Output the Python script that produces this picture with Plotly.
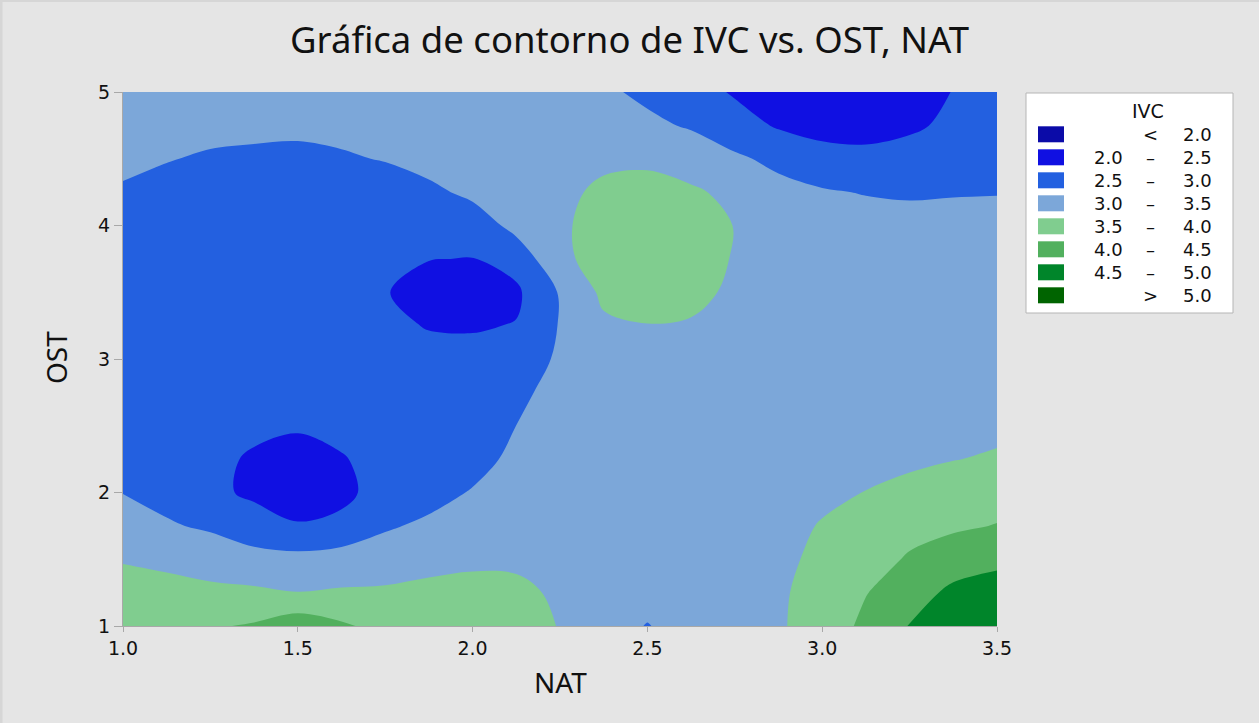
import plotly.graph_objects as go

# ---- data ----
nat = [1.0, 1.125, 1.25, 1.375, 1.5, 1.625, 1.75, 1.875, 2.0, 2.125, 2.25,
       2.375, 2.5, 2.625, 2.75, 2.875, 3.0, 3.125, 3.25, 3.375, 3.5]
ost = [1.0, 1.25, 1.5, 1.75, 2.0, 2.25, 2.5, 2.75, 3.0, 3.25, 3.5,
       3.75, 4.0, 4.25, 4.5, 4.75, 5.0]

ivc_ost_100 = [3.75, 3.78, 3.95, 4.05, 4.30, 4.07, 3.85, 3.82, 3.78, 3.70, 3.48, 3.30, 2.97, 3.30, 3.35, 3.46, 3.66, 4.13, 4.52, 4.72, 4.88]
ivc_ost_125 = [3.62, 3.65, 3.60, 3.58, 3.51, 3.55, 3.58, 3.60, 3.64, 3.60, 3.43, 3.30, 3.25, 3.28, 3.32, 3.45, 3.64, 3.98, 4.30, 4.60, 4.70]
ivc_ost_150 = [3.48, 3.40, 3.30, 3.18, 3.15, 3.22, 3.22, 3.38, 3.42, 3.42, 3.35, 3.28, 3.25, 3.27, 3.30, 3.40, 3.60, 3.80, 4.05, 4.28, 4.40]
ivc_ost_175 = [3.22, 3.05, 2.93, 2.70, 2.53, 2.62, 2.95, 3.08, 3.20, 3.30, 3.30, 3.27, 3.25, 3.26, 3.28, 3.35, 3.53, 3.65, 3.85, 3.92, 4.02]
ivc_ost_200 = [2.99, 2.85, 2.60, 2.42, 2.30, 2.38, 2.70, 2.85, 3.03, 3.20, 3.28, 3.27, 3.25, 3.26, 3.27, 3.30, 3.40, 3.51, 3.62, 3.70, 3.78]
ivc_ost_225 = [2.85, 2.75, 2.58, 2.46, 2.33, 2.47, 2.65, 2.72, 2.85, 3.10, 3.25, 3.27, 3.25, 3.26, 3.27, 3.28, 3.33, 3.38, 3.42, 3.49, 3.54]
ivc_ost_250 = [2.80, 2.68, 2.62, 2.57, 2.55, 2.62, 2.67, 2.70, 2.76, 3.002, 3.20, 3.27, 3.27, 3.27, 3.28, 3.27, 3.30, 3.32, 3.36, 3.40, 3.42]
ivc_ost_275 = [2.75, 2.64, 2.60, 2.58, 2.60, 2.63, 2.68, 2.68, 2.72, 2.90, 3.15, 3.28, 3.30, 3.30, 3.30, 3.27, 3.28, 3.28, 3.30, 3.33, 3.35]
ivc_ost_300 = [2.72, 2.62, 2.58, 2.56, 2.60, 2.62, 2.65, 2.62, 2.64, 2.70, 3.08, 3.30, 3.35, 3.35, 3.32, 3.27, 3.27, 3.27, 3.28, 3.30, 3.32]
ivc_ost_325 = [2.72, 2.62, 2.57, 2.55, 2.58, 2.60, 2.58, 2.48, 2.46, 2.52, 3.03, 3.42, 3.49, 3.46, 3.36, 3.27, 3.27, 3.27, 3.27, 3.28, 3.30]
ivc_ost_350 = [2.75, 2.65, 2.58, 2.55, 2.57, 2.58, 2.52, 2.35, 2.32, 2.42, 3.04, 3.60, 3.65, 3.62, 3.42, 3.28, 3.27, 3.27, 3.27, 3.27, 3.28]
ivc_ost_375 = [2.80, 2.70, 2.62, 2.58, 2.60, 2.62, 2.58, 2.51, 2.49, 2.68, 3.40, 3.68, 3.72, 3.70, 3.47, 3.30, 3.27, 3.25, 3.25, 3.25, 3.25]
ivc_ost_400 = [2.87, 2.77, 2.68, 2.63, 2.65, 2.68, 2.70, 2.70, 2.70, 3.16, 3.42, 3.70, 3.72, 3.68, 3.49, 3.30, 3.22, 3.17, 3.15, 3.16, 3.17]
ivc_ost_425 = [2.96, 2.86, 2.77, 2.72, 2.73, 2.77, 2.82, 2.88, 3.12, 3.28, 3.38, 3.60, 3.65, 3.56, 3.40, 3.15, 3.04, 2.98, 2.95, 2.97, 2.98]
ivc_ost_450 = [3.08, 3.02, 2.95, 2.92, 2.91, 2.96, 3.02, 3.20, 3.28, 3.32, 3.35, 3.40, 3.42, 3.30, 3.08, 2.88, 2.72, 2.65, 2.70, 2.78, 2.85]
ivc_ost_475 = [3.18, 3.15, 3.12, 3.10, 3.08, 3.10, 3.20, 3.27, 3.32, 3.35, 3.30, 3.25, 3.10, 2.95, 2.70, 2.45, 2.30, 2.30, 2.42, 2.60, 2.78]
ivc_ost_500 = [3.22, 3.22, 3.22, 3.22, 3.20, 3.22, 3.27, 3.30, 3.33, 3.33, 3.20, 3.08, 2.90, 2.70, 2.45, 2.25, 2.10, 2.05, 2.20, 2.52, 2.75]

ivc = [ivc_ost_100, ivc_ost_125, ivc_ost_150, ivc_ost_175, ivc_ost_200,
       ivc_ost_225, ivc_ost_250, ivc_ost_275, ivc_ost_300, ivc_ost_325,
       ivc_ost_350, ivc_ost_375, ivc_ost_400, ivc_ost_425, ivc_ost_450,
       ivc_ost_475, ivc_ost_500]

level_start, level_end, level_step = 2.0, 5.0, 0.5
band_colors = ["#0b0ba8", "#1010e2", "#2360e0", "#7ca7d9",
               "#80cd8f", "#52b05e", "#00852a", "#006400"]
legend_low = ["", "2.0", "2.5", "3.0", "3.5", "4.0", "4.5", ""]
legend_sep = ["<", "–", "–", "–", "–", "–", "–", ">"]
legend_high = ["2.0", "2.5", "3.0", "3.5", "4.0", "4.5", "5.0", "5.0"]

x_ticks = [1.0, 1.5, 2.0, 2.5, 3.0, 3.5]
y_ticks = [1, 2, 3, 4, 5]

# ---- figure ----
W, H = 1259, 723
L, R, T, B = 123, 997, 92, 626
TFONT = "Noto Sans"
NFONT = "DejaVu Sans"
INK = "#111111"


def px(xp):
    return (xp - L) / (R - L)


def py(yp):
    return (B - yp) / (B - T)


n = len(band_colors) - 1
colorscale = [[k / n, c] for k, c in enumerate(band_colors)]

fig = go.Figure(go.Contour(
    x=nat, y=ost, z=ivc,
    autocontour=False,
    contours=dict(start=level_start, end=level_end, size=level_step,
                  coloring="fill", showlines=False),
    line=dict(width=0, smoothing=1.0),
    colorscale=colorscale,
    showscale=False,
    hoverinfo="x+y+z",
))

fig.update_layout(
    width=W, height=H,
    margin=dict(l=L, r=W - R, t=T, b=H - B),
    paper_bgcolor="#e5e5e5",
    plot_bgcolor="#e5e5e5",
    showlegend=False,
    font=dict(family=TFONT, color=INK),
    title=dict(text="Gráfica de contorno de IVC vs. OST, NAT",
               x=0.5, xanchor="center", xref="container",
               y=1 - 40 / H, yanchor="middle", yref="container",
               font=dict(family=TFONT, size=36.5, color=INK)),
)

fig.update_xaxes(range=[1.0, 3.5], tickvals=x_ticks,
                 ticktext=[f"{v:.1f}" for v in x_ticks],
                 showgrid=False, zeroline=False, showline=True,
                 linecolor="#a8a8a8", linewidth=1, ticks="outside",
                 ticklen=5, tickcolor="#a8a8a8",
                 tickfont=dict(size=19, family=NFONT, color=INK))
fig.update_yaxes(range=[1, 5], tickvals=y_ticks,
                 ticktext=[str(v) for v in y_ticks],
                 showgrid=False, zeroline=False, showline=True,
                 linecolor="#a8a8a8", linewidth=1, ticks="outside",
                 ticklen=8, tickcolor="#a8a8a8",
                 tickfont=dict(size=19, family=NFONT, color=INK))

annotations = [
    dict(text="NAT", x=px(560), y=py(682), xref="paper", yref="paper",
         showarrow=False, xanchor="center", yanchor="middle",
         font=dict(size=28, family=TFONT, color=INK)),
    dict(text="OST", x=px(56), y=py(358), xref="paper", yref="paper",
         showarrow=False, xanchor="center", yanchor="middle", textangle=-90,
         font=dict(size=28, family=TFONT, color=INK)),
    dict(text="IVC", x=px(1148), y=py(111), xref="paper", yref="paper",
         showarrow=False, xanchor="center", yanchor="middle",
         font=dict(size=19, family=NFONT, color=INK)),
]
shapes = [
    # thin frame lines along the left and top edges of the picture
    dict(type="line", xref="paper", yref="paper",
         x0=px(1), x1=px(1), y0=py(0), y1=py(H),
         line=dict(color="#d6d6d6", width=3)),
    dict(type="line", xref="paper", yref="paper",
         x0=px(0), x1=px(W), y0=py(1), y1=py(1),
         line=dict(color="#d6d6d6", width=2)),
    dict(type="rect", xref="paper", yref="paper",
         x0=px(1026), x1=px(1233), y0=py(93), y1=py(313),
         fillcolor="white", line=dict(color="#b5b5b5", width=1)),
]
row0, row_gap = 134.3, 23.0
for i, col in enumerate(band_colors):
    yc = row0 + i * row_gap
    shapes.append(dict(type="rect", xref="paper", yref="paper",
                       x0=px(1038), x1=px(1064), y0=py(yc + 8), y1=py(yc - 8),
                       fillcolor=col, line=dict(width=0)))
    if legend_low[i]:
        annotations.append(dict(text=legend_low[i], x=px(1125), y=py(yc),
                                xref="paper", yref="paper", showarrow=False,
                                xanchor="right", yanchor="middle",
                                font=dict(size=18, family=NFONT, color=INK)))
    annotations.append(dict(text=legend_sep[i], x=px(1150), y=py(yc),
                            xref="paper", yref="paper", showarrow=False,
                            xanchor="center", yanchor="middle",
                            font=dict(size=18, family=NFONT, color=INK)))
    annotations.append(dict(text=legend_high[i], x=px(1214), y=py(yc),
                            xref="paper", yref="paper", showarrow=False,
                            xanchor="right", yanchor="middle",
                            font=dict(size=18, family=NFONT, color=INK)))

fig.update_layout(annotations=annotations, shapes=shapes)

fig.write_html("out.html", config={"displayModeBar": False},
               post_script="document.body.style.margin='0px';")
